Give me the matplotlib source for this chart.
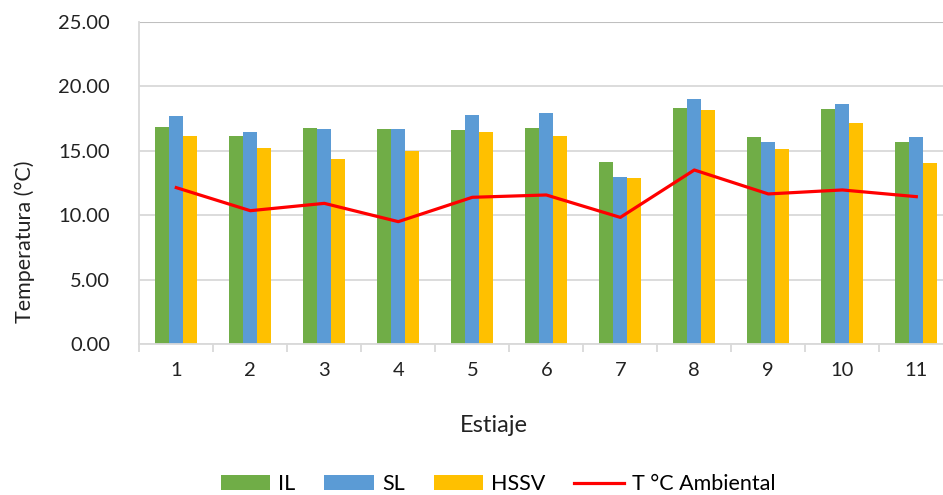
import numpy as np
import matplotlib.pyplot as plt

plt.rcParams['font.family'] = ['Lato', 'DejaVu Sans']

estiaje = ['1', '2', '3', '4', '5', '6', '7', '8', '9', '10', '11']
il = [16.87, 16.18, 16.74, 16.66, 16.61, 16.74, 14.16, 18.35, 16.10, 18.25, 15.71]
sl = [17.68, 16.43, 16.66, 16.66, 17.78, 17.91, 12.94, 19.00, 15.68, 18.61, 16.10]
hssv = [16.12, 15.22, 14.34, 15.01, 16.49, 16.18, 12.86, 18.17, 15.14, 17.13, 14.08]
t_amb = [12.14, 10.35, 10.92, 9.50, 11.39, 11.57, 9.83, 13.51, 11.65, 11.96, 11.44]

W, H = 943, 495
fig = plt.figure(figsize=(W / 100, H / 100), dpi=100)
# plot area: x 139..953 px (right side runs off the image), y 22..344 px
ax = fig.add_axes([139.3 / W, 1 - 344 / H, 814 / W, 322 / H])

x = np.arange(len(estiaje))
bw = 0.19
b1 = ax.bar(x - bw, il, bw, color='#70AD47', label='IL', zorder=2)
b2 = ax.bar(x, sl, bw, color='#5B9BD5', label='SL', zorder=2)
b3 = ax.bar(x + bw, hssv, bw, color='#FFC000', label='HSSV', zorder=2)
ln, = ax.plot(x, t_amb, color='#FF0000', lw=2.3, label='T °C Ambiental', zorder=3)

ax.set_xlim(-0.5, 10.5)
ax.set_ylim(0, 25)
ax.set_yticks(np.arange(0, 26, 5))
ax.set_yticklabels([f'{v:.2f}' for v in np.arange(0, 26, 5)])
ax.yaxis.grid(True, color='#D9D9D9', lw=1.3, zorder=0)
ax.set_axisbelow(True)

ax.set_xticks(x)
ax.set_xticklabels(estiaje)
ax.set_xticks(np.arange(-0.5, 11, 1), minor=True)
ax.tick_params(axis='x', which='major', length=0, pad=13, labelsize=14.5, colors='#222222')
ax.tick_params(axis='x', which='minor', length=6, width=1.3, color='#D9D9D9')
ax.tick_params(axis='y', length=0, pad=21, labelsize=14.5, colors='#222222')

for s in ['top', 'right']:
    ax.spines[s].set_visible(False)
ax.spines['left'].set_color('#D9D9D9')
ax.spines['left'].set_linewidth(1.3)
ax.spines['bottom'].set_color('#D9D9D9')
ax.spines['bottom'].set_linewidth(1.3)
ax.axhline(25, color='#BFBFBF', lw=1.5, zorder=1)

fig.text(494 / W, 1 - 425 / H, 'Estiaje', ha='center', va='center', fontsize=17, color='#222222')
fig.text(25 / W, 1 - 242 / H, 'Temperatura (°C)', ha='center', va='center',
         rotation=90, fontsize=15.5, color='#222222')

fig.legend([b1, b2, b3, ln], ['IL', 'SL', 'HSSV', 'T °C Ambiental'],
           loc='center', bbox_to_anchor=(498 / W, 1 - 484 / H), ncol=4, frameon=False,
           fontsize=15.5, handlelength=2.3, handleheight=0.65, columnspacing=1.35,
           handletextpad=0.37, borderaxespad=0)

fig.savefig('out.png', dpi=100)
